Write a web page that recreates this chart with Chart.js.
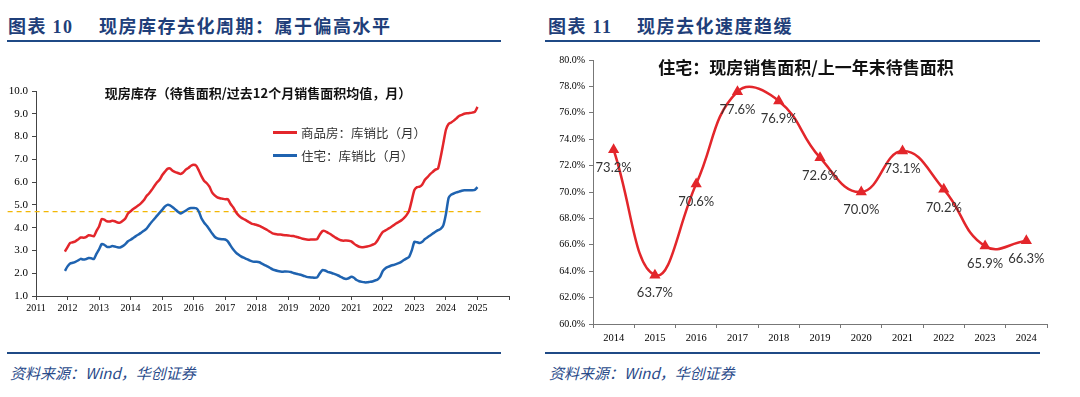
<!DOCTYPE html>
<html lang="zh-CN">

<head>
    <meta charset="UTF-8">
    <title>现房库存去化</title>
    <script src="https://cdn.jsdelivr.net/npm/chart.js"></script>
    <style>
        body {
            margin: 0;
            width: 1080px;
            height: 397px;
            background: #fff;
            position: relative;
            overflow: hidden;
            font-family: "Noto Sans CJK SC", sans-serif;
        }

        .cabecalho {
            position: absolute;
            top: 12px;
            font-size: 18px;
            font-weight: bold;
            color: #1f3f7a;
            letter-spacing: 1.5px;
            white-space: nowrap;
        }

        .numero {
            font-family: "Liberation Serif", serif;
        }

        .linha {
            position: absolute;
            height: 2px;
            background: #1f4a86;
        }

        .fonte {
            position: absolute;
            top: 362px;
            font-size: 15px;
            font-style: italic;
            color: #2a4b8a;
            white-space: nowrap;
        }

        .grafico {
            position: absolute;
        }

        .titulo {
            position: absolute;
            transform: translate(-50%, -50%);
            white-space: nowrap;
            color: #111;
            font-weight: bold;
        }

        .legenda {
            position: absolute;
            font-size: 12.5px;
            color: #333;
            white-space: nowrap;
        }

        .legenda div {
            height: 23px;
            display: flex;
            align-items: center;
        }

        .legenda span.traco {
            display: inline-block;
            width: 24px;
            height: 2.5px;
            margin-right: 4px;
        }
    </style>
</head>

<body>
    <div class="cabecalho" style="left:8px">图表 <span class="numero">10</span></div>
    <div class="cabecalho" style="left:99px">现房库存去化周期：属于偏高水平</div>
    <div class="linha" style="left:7px; width:494px; top:40px"></div>

    <div class="cabecalho" style="left:548px">图表 <span class="numero">11</span></div>
    <div class="cabecalho" style="left:637px">现房去化速度趋缓</div>
    <div class="linha" style="left:545px; width:495px; top:40px"></div>

    <div class="grafico" style="left:0; top:50px; width:520px; height:270px">
        <canvas id="myChart"></canvas>
    </div>
    <div class="titulo" style="left:258px; top:92px; font-size:13px">现房库存（待售面积/过去12个月销售面积均值，月）</div>
    <div class="legenda" id="legenda1" style="left:273px; top:121px"></div>

    <div class="grafico" style="left:540px; top:50px; width:540px; height:300px">
        <canvas id="myChart2"></canvas>
    </div>
    <div class="titulo" style="left:806px; top:66px; font-size:17px">住宅：现房销售面积/上一年末待售面积</div>

    <div class="linha" style="left:7px; width:494px; top:352px"></div>
    <div class="fonte" style="left:10px">资料来源：Wind，华创证券</div>
    <div class="linha" style="left:545px; width:495px; top:352px"></div>
    <div class="fonte" style="left:549px">资料来源：Wind，华创证券</div>
</body>

</html>

<script>
    // dados do gráfico 1 (mensal, a partir de 2011-12)
    const mesInicial = [2011, 12]
    const nomeSerie1 = '商品房：库销比（月）'
    const nomeSerie2 = '住宅：库销比（月）'
    const serieComercial = [
        2.95,
        3.15, 3.33, 3.36, 3.40, 3.48, 3.57, 3.56, 3.58, 3.67, 3.65, 3.62, 3.85,
        4.05, 4.38, 4.35, 4.28, 4.27, 4.30, 4.28, 4.23, 4.22, 4.30, 4.40, 4.62,
        4.72, 4.82, 4.90, 4.98, 5.08, 5.20, 5.38, 5.50, 5.65, 5.82, 5.98, 6.10,
        6.30, 6.45, 6.58, 6.60, 6.50, 6.44, 6.40, 6.36, 6.42, 6.55, 6.62, 6.72,
        6.76, 6.72, 6.50, 6.25, 6.05, 5.95, 5.80, 5.55, 5.42, 5.33, 5.29, 5.27,
        5.25, 5.25, 5.05, 4.90, 4.70, 4.55, 4.45, 4.38, 4.32, 4.25, 4.18, 4.15,
        4.12, 4.08, 4.02, 3.96, 3.90, 3.82, 3.75, 3.72, 3.70, 3.70, 3.68, 3.67,
        3.66, 3.64, 3.63, 3.60, 3.57, 3.53, 3.50, 3.48, 3.47, 3.48, 3.48, 3.50,
        3.70, 3.85, 3.85, 3.78, 3.72, 3.64, 3.56, 3.50, 3.45, 3.43, 3.44, 3.43,
        3.40, 3.30, 3.22, 3.16, 3.14, 3.15, 3.17, 3.20, 3.25, 3.30, 3.45, 3.65,
        3.82, 3.88, 3.95, 4.02, 4.10, 4.18, 4.25, 4.32, 4.42, 4.55, 4.75, 5.20,
        5.65, 5.78, 5.80, 5.90, 6.10, 6.22, 6.35, 6.45, 6.55, 6.60, 7.10, 7.70,
        8.30, 8.55, 8.62, 8.70, 8.80, 8.90, 8.95, 9.00, 9.02, 9.03, 9.05, 9.08,
        9.30
    ]
    const serieResidencial = [
        2.10,
        2.30, 2.43, 2.46, 2.50, 2.56, 2.63, 2.60, 2.62, 2.67, 2.66, 2.62, 2.85,
        3.05, 3.28, 3.25, 3.16, 3.15, 3.19, 3.17, 3.14, 3.13, 3.19, 3.28, 3.40,
        3.47, 3.55, 3.63, 3.70, 3.78, 3.86, 3.95, 4.10, 4.25, 4.38, 4.52, 4.65,
        4.78, 4.92, 5.00, 4.98, 4.90, 4.80, 4.70, 4.62, 4.68, 4.75, 4.82, 4.86,
        4.86, 4.85, 4.70, 4.40, 4.22, 4.08, 3.92, 3.75, 3.60, 3.53, 3.50, 3.49,
        3.48, 3.40, 3.22, 3.05, 2.92, 2.82, 2.74, 2.68, 2.63, 2.58, 2.53, 2.50,
        2.50, 2.48, 2.42, 2.36, 2.30, 2.24, 2.17, 2.13, 2.10, 2.08, 2.07, 2.08,
        2.07, 2.05, 2.01, 1.98, 1.95, 1.92, 1.88, 1.84, 1.82, 1.81, 1.80, 1.82,
        2.00, 2.14, 2.12, 2.06, 2.03, 1.99, 1.95, 1.90, 1.84, 1.78, 1.75, 1.78,
        1.84, 1.80, 1.70, 1.65, 1.62, 1.60, 1.60, 1.62, 1.64, 1.68, 1.72, 1.85,
        2.10, 2.22, 2.28, 2.33, 2.36, 2.40, 2.44, 2.50, 2.58, 2.65, 2.72, 3.00,
        3.38, 3.36, 3.33, 3.38, 3.50, 3.58, 3.66, 3.74, 3.82, 3.89, 3.95, 4.10,
        4.60, 5.30, 5.45, 5.50, 5.55, 5.58, 5.62, 5.64, 5.64, 5.64, 5.64, 5.66,
        5.78
    ]
    // linha tracejada de referência
    const nivelReferencia = 4.7
    const faixaReferencia = [2010.1, 2025.1]
    const eixoAnos = [2011, 2026]

    // dados do gráfico 2 (anual)
    const anos = ['2014', '2015', '2016', '2017', '2018', '2019', '2020', '2021', '2022', '2023', '2024']
    const taxaVenda = [73.2, 63.7, 70.6, 77.6, 76.9, 72.6, 70.0, 73.1, 70.2, 65.9, 66.3]

    const corVermelha = '#e3262b'
    const corAzul = '#1f63b0'
    const fonteEixo = { family: '"Liberation Serif", serif', size: 10 }

    // meses -> ano decimal
    function paraPontos(valores) {
        return valores.map((v, i) => {
            const m = mesInicial[1] - 1 + i
            return { x: mesInicial[0] + m / 12, y: v }
        })
    }

    // legenda em html
    const legenda1 = document.getElementById('legenda1')
    ;[[nomeSerie1, corVermelha], [nomeSerie2, corAzul]].forEach(item => {
        legenda1.innerHTML += `<div><span class="traco" style="background:${item[1]}"></span>${item[0]}</div>`
    })

    const ctx1 = document.getElementById('myChart')
    new Chart(ctx1, {
        type: 'line',
        data: {
            datasets: [{
                label: nomeSerie1,
                data: paraPontos(serieComercial),
                borderColor: corVermelha,
                borderWidth: 2.5,
                pointRadius: 0,
                tension: 0.2
            }, {
                label: nomeSerie2,
                data: paraPontos(serieResidencial),
                borderColor: corAzul,
                borderWidth: 2.5,
                pointRadius: 0,
                tension: 0.2
            }, {
                label: 'ref',
                data: faixaReferencia.map(x => ({ x: x, y: nivelReferencia })),
                borderColor: '#f2b705',
                borderWidth: 1.2,
                borderDash: [5, 4],
                pointRadius: 0,
                clip: false
            }]
        },
        options: {
            responsive: true,
            maintainAspectRatio: false,
            animation: false,
            layout: { padding: { top: 41, right: 11, left: 0, bottom: 0 } },
            plugins: { legend: { display: false }, tooltip: { enabled: false } },
            scales: {
                x: {
                    type: 'linear',
                    min: eixoAnos[0],
                    max: eixoAnos[1],
                    afterFit: s => { s.height = 24 },
                    border: { color: '#444' },
                    grid: { drawOnChartArea: false, tickLength: 4, color: '#444' },
                    ticks: {
                        stepSize: 1,
                        autoSkip: false,
                        maxRotation: 0,
                        padding: 2,
                        color: '#000',
                        font: fonteEixo,
                        callback: v => v == eixoAnos[1] ? '' : String(v)
                    }
                },
                y: {
                    min: 1,
                    max: 10,
                    afterFit: s => { s.width = 36 },
                    border: { color: '#444' },
                    grid: { drawOnChartArea: false, tickLength: 4, color: '#444' },
                    ticks: {
                        stepSize: 1,
                        padding: 4,
                        color: '#000',
                        font: { family: '"Liberation Serif", serif', size: 11 },
                        callback: v => v.toFixed(1)
                    }
                }
            }
        }
    })

    // rótulos de dados do gráfico 2
    const rotulos = {
        id: 'rotulos',
        afterDatasetsDraw(chart) {
            const ctx = chart.ctx
            const meta = chart.getDatasetMeta(0)
            ctx.save()
            ctx.font = '13px Lato, "Liberation Sans", sans-serif'
            ctx.fillStyle = '#333'
            ctx.textAlign = 'center'
            ctx.textBaseline = 'middle'
            meta.data.forEach((p, i) => {
                ctx.fillText(taxaVenda[i].toFixed(1) + '%', p.x, p.y + 18)
            })
            ctx.restore()
        }
    }

    const ctx2 = document.getElementById('myChart2')
    new Chart(ctx2, {
        type: 'line',
        data: {
            labels: anos,
            datasets: [{
                label: '住宅',
                data: taxaVenda,
                borderColor: corVermelha,
                backgroundColor: corVermelha,
                borderWidth: 2.5,
                pointStyle: 'triangle',
                pointRadius: 4,
                tension: 0.45
            }]
        },
        plugins: [rotulos],
        options: {
            responsive: true,
            maintainAspectRatio: false,
            animation: false,
            layout: { padding: { top: 9, right: 33, left: 0, bottom: 0 } },
            plugins: { legend: { display: false }, tooltip: { enabled: false } },
            scales: {
                x: {
                    offset: true,
                    afterFit: s => { s.height = 26 },
                    border: { color: '#777' },
                    grid: { offset: true, drawOnChartArea: false, tickLength: 4, color: '#777' },
                    ticks: { maxRotation: 0, padding: 4, color: '#000', font: { family: '"Liberation Serif", serif', size: 10.5 } }
                },
                y: {
                    min: 60,
                    max: 80,
                    afterFit: s => { s.width = 53 },
                    border: { color: '#777' },
                    grid: { drawOnChartArea: false, tickLength: 4, color: '#777' },
                    ticks: {
                        stepSize: 2,
                        padding: 4,
                        color: '#000',
                        font: fonteEixo,
                        callback: v => v.toFixed(1) + '%'
                    }
                }
            }
        }
    })
</script>
